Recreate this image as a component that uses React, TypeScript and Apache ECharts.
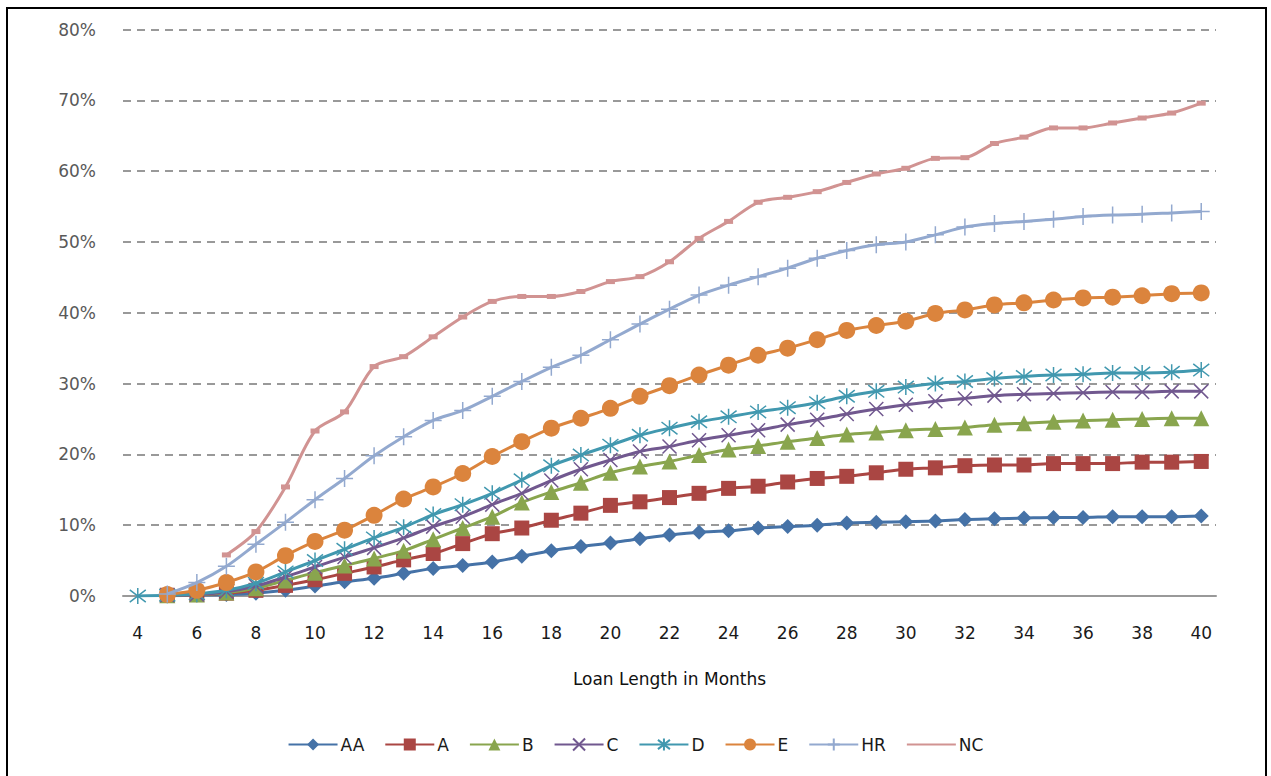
import React, { useEffect, useRef } from "react";
import * as echarts from "echarts";

const months = ["4","5","6","7","8","9","10","11","12","13","14","15","16","17","18","19","20","21","22","23","24","25","26","27","28","29","30","31","32","33","34","35","36","37","38","39","40"];

const seriesNames = ["AA", "A", "B", "C", "D", "E", "HR", "NC"];

// values in %, months 4..40 (null = no point)
const aaValues = [null, 0.05, 0.1, 0.2, 0.4, 0.8, 1.4, 2.0, 2.5, 3.2, 3.9, 4.3, 4.8, 5.6, 6.4, 7.0, 7.5, 8.1, 8.6, 9.0, 9.2, 9.6, 9.8, 10.0, 10.3, 10.4, 10.5, 10.6, 10.8, 10.9, 11.0, 11.1, 11.1, 11.2, 11.2, 11.2, 11.3];
const aValues = [null, 0.1, 0.2, 0.4, 0.8, 1.5, 2.3, 3.2, 4.1, 5.1, 6.0, 7.4, 8.8, 9.6, 10.7, 11.7, 12.8, 13.3, 13.9, 14.5, 15.2, 15.5, 16.1, 16.6, 16.9, 17.4, 17.9, 18.1, 18.4, 18.5, 18.5, 18.7, 18.7, 18.7, 18.9, 18.9, 19.0];
const bValues = [null, 0.1, 0.2, 0.5, 1.1, 2.2, 3.3, 4.3, 5.3, 6.4, 8.0, 9.6, 11.2, 13.2, 14.7, 16.0, 17.4, 18.3, 19.0, 19.9, 20.7, 21.2, 21.8, 22.3, 22.8, 23.1, 23.4, 23.6, 23.8, 24.2, 24.4, 24.6, 24.8, 24.9, 25.0, 25.1, 25.1];
const cValues = [null, 0.1, 0.2, 0.6, 1.4, 2.7, 4.1, 5.5, 6.8, 8.2, 9.8, 11.2, 12.9, 14.5, 16.3, 17.9, 19.2, 20.4, 21.1, 22.0, 22.7, 23.4, 24.2, 24.9, 25.7, 26.4, 27.0, 27.5, 27.9, 28.3, 28.5, 28.6, 28.7, 28.8, 28.8, 28.9, 28.9];
const dValues = [0, 0.1, 0.3, 0.8, 1.8, 3.4, 5.0, 6.6, 8.2, 9.7, 11.5, 12.9, 14.5, 16.4, 18.4, 19.9, 21.3, 22.7, 23.7, 24.6, 25.3, 26.0, 26.6, 27.3, 28.2, 28.9, 29.5, 30.0, 30.3, 30.7, 31.0, 31.2, 31.3, 31.5, 31.5, 31.6, 31.9];
const eValues = [null, 0.2, 0.8, 1.9, 3.4, 5.7, 7.7, 9.3, 11.4, 13.7, 15.4, 17.3, 19.7, 21.8, 23.7, 25.1, 26.5, 28.2, 29.7, 31.2, 32.6, 34.0, 35.0, 36.2, 37.5, 38.2, 38.8, 39.9, 40.4, 41.1, 41.4, 41.8, 42.1, 42.2, 42.4, 42.7, 42.8];
const hrValues = [null, 0.3, 1.9, 4.2, 7.3, 10.4, 13.6, 16.6, 19.8, 22.5, 24.8, 26.2, 28.2, 30.3, 32.3, 34.0, 36.2, 38.4, 40.5, 42.5, 43.9, 45.1, 46.3, 47.7, 48.8, 49.6, 50.0, 51.0, 52.1, 52.6, 52.9, 53.2, 53.6, 53.8, 53.9, 54.1, 54.3];
const ncValues = [null, null, null, 5.8, 9.1, 15.4, 23.3, 26.0, 32.4, 33.8, 36.6, 39.4, 41.6, 42.3, 42.3, 43.0, 44.4, 45.1, 47.2, 50.5, 52.9, 55.6, 56.3, 57.1, 58.4, 59.6, 60.4, 61.8, 61.9, 63.9, 64.8, 66.1, 66.1, 66.8, 67.5, 68.2, 69.6];

const yTicks = [0, 10, 20, 30, 40, 50, 60, 70, 80];

const colors = ["#4572A7", "#AA4643", "#89A54E", "#71588F", "#4198AF", "#DB843D", "#93A9CF", "#D19392"];

const X_PATH = "path://M0,0L10,10M10,0L0,10";
const AST_PATH = "path://M0,0L10,10M10,0L0,10M5,-1.5L5,11.5";
const PLUS_PATH = "path://M5,0L5,10M0,5L10,5";

const FONT = "DejaVu Sans, Liberation Sans, sans-serif";

export default function App() {
  const ref = useRef<HTMLDivElement>(null);
  useEffect(() => {
    document.body.style.margin = "0";
    if (!ref.current) return;
    const chart = echarts.init(ref.current, null, { renderer: "svg" });
    const allValues = [aaValues, aValues, bValues, cValues, dValues, eValues, hrValues, ncValues];
    const symbols: any[] = ["diamond", "rect", "triangle", X_PATH, AST_PATH, "circle", PLUS_PATH, "rect"];
    const sizes: any[] = [15, 15, 16, 14, 16, 17, 17, [9, 5]];
    const strokeMarkers = [false, false, false, true, true, false, true, false];
    const series = seriesNames.map((name, i) => ({
      name,
      type: "line",
      data: allValues[i],
      smooth: 0.3,
      symbol: symbols[i],
      symbolSize: sizes[i],
      showSymbol: true,
      connectNulls: false,
      lineStyle: { color: colors[i], width: 3 },
      itemStyle: strokeMarkers[i]
        ? { color: colors[i], borderColor: colors[i], borderWidth: 1.5 }
        : { color: colors[i], borderWidth: 0 },
      z: 2 + i,
    }));
    const legendData = seriesNames.map((name) =>
      name === "NC" ? { name, itemStyle: { opacity: 0 } } : { name }
    );
    chart.setOption({
      animation: false,
      backgroundColor: "#ffffff",
      color: colors,
      graphic: [
        {
          type: "rect",
          shape: { x: 7, y: 8, width: 1259, height: 800 },
          style: { fill: "none", stroke: "#000", lineWidth: 2 },
          silent: true,
          z: 100,
        },
      ],
      grid: { left: 123, right: 55, top: 29.5, bottom: 180, containLabel: false },
      xAxis: {
        type: "category",
        data: months,
        boundaryGap: true,
        name: "Loan Length in Months",
        nameLocation: "middle",
        nameGap: 74,
        nameTextStyle: { fontFamily: FONT, fontSize: 17, color: "#111" },
        axisLine: { show: true, lineStyle: { color: "#999", width: 2 } },
        axisTick: { show: false },
        axisLabel: { interval: 1, fontFamily: FONT, fontSize: 17, color: "#1a1a1a", margin: 28 },
        splitLine: { show: false },
      },
      yAxis: {
        type: "value",
        min: yTicks[0],
        max: yTicks[yTicks.length - 1],
        interval: 10,
        axisLine: { show: false },
        axisTick: { show: false },
        axisLabel: { formatter: "{value}%", fontFamily: FONT, fontSize: 17, color: "#595959", margin: 27 },
        splitLine: { show: true, lineStyle: { color: "#999", width: 2, type: [8, 6] } },
      },
      legend: {
        data: legendData,
        bottom: 18,
        left: "center",
        itemWidth: 49,
        itemHeight: 15,
        itemGap: 20,
        textStyle: { fontFamily: FONT, fontSize: 17, color: "#1a1a1a", padding: [0, 0, 0, -2] },
      },
      series,
    });
    return () => chart.dispose();
  }, []);
  return <div ref={ref} style={{ width: 1271, height: 776 }} />;
}
